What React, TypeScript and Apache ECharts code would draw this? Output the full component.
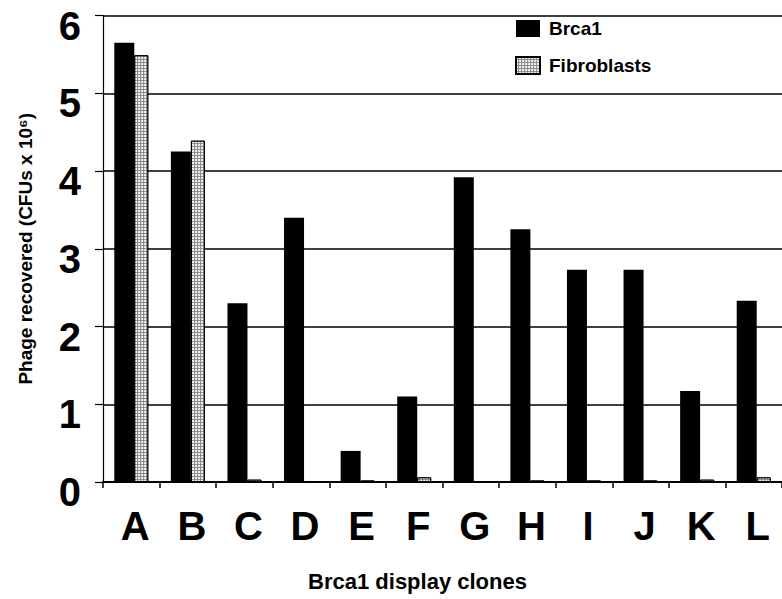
import React, { useEffect, useRef } from "react";
import * as echarts from "echarts";

const categories = ["A", "B", "C", "D", "E", "F", "G", "H", "I", "J", "K", "L"];
const brca1Values = [5.65, 4.25, 2.3, 3.4, 0.4, 1.1, 3.92, 3.25, 2.73, 2.73, 1.17, 2.33];
const fibroblastValues = [5.49, 4.39, 0.03, 0.01, 0.02, 0.06, 0.01, 0.02, 0.02, 0.02, 0.03, 0.06];
const yTicks = { min: 0, max: 6, interval: 1 };
const seriesNames = ["Brca1", "Fibroblasts"];
const xTitle = "Brca1 display clones";
const yTitle = "Phage recovered (CFUs x 10\u2076)";

const FONT = "'Liberation Sans', Arial, Helvetica, sans-serif";

export default function App() {
  const ref = useRef<HTMLDivElement>(null);
  useEffect(() => {
    if (!ref.current) return;
    const chart = echarts.init(ref.current, undefined, { renderer: "svg" });
    const fibDecal = {
      symbol: "circle",
      symbolSize: 1,
      dashArrayX: [2, 1],
      dashArrayY: [2, 1],
      color: "#ffffff",
      backgroundColor: "#444444",
      rotation: 0,
    };
    chart.setOption({
      animation: false,
      backgroundColor: "#ffffff",
      textStyle: { fontFamily: FONT },
      grid: { left: 103, top: 15.5, width: 684, height: 466.5 },
      legend: {
        orient: "vertical",
        left: 515,
        top: 19,
        padding: 0,
        itemWidth: 24,
        itemHeight: 17,
        itemGap: 18,
        textStyle: { fontFamily: FONT, fontWeight: "bold", fontSize: 19, color: "#000", padding: [0, 0, 0, 4] },
        data: [
          { name: seriesNames[0], icon: "rect" },
          { name: seriesNames[1], icon: "rect" },
        ],
      },
      xAxis: {
        type: "category",
        data: categories,
        name: xTitle,
        nameLocation: "middle",
        nameGap: 88,
        nameTextStyle: { fontFamily: FONT, fontWeight: "bold", fontSize: 22, color: "#000", padding: [0, 50, 0, 0] },
        axisLine: { lineStyle: { color: "#000", width: 2 } },
        axisTick: { show: true, length: 6, lineStyle: { color: "#000", width: 1.5 } },
        axisLabel: { fontFamily: FONT, fontWeight: "bold", fontSize: 40, color: "#000", margin: 24, padding: [0, 0, 0, 8] },
      },
      yAxis: {
        type: "value",
        min: yTicks.min,
        max: yTicks.max,
        interval: yTicks.interval,
        name: yTitle,
        nameLocation: "middle",
        nameRotate: 90,
        nameGap: 68,
        nameTextStyle: { fontFamily: FONT, fontWeight: "bold", fontSize: 19, color: "#000" },
        axisLine: { show: true, lineStyle: { color: "#000", width: 1.2 } },
        axisTick: { show: true, length: 8, lineStyle: { color: "#000", width: 1.2 } },
        axisLabel: {
          fontFamily: FONT,
          fontWeight: "bold",
          fontSize: 40,
          color: "#000",
          margin: 22,
          verticalAlign: "top",
          lineHeight: 20,
        },
        splitLine: { show: true, lineStyle: { color: "#000", width: 1.5 } },
      },
      series: [
        {
          name: seriesNames[0],
          type: "bar",
          data: brca1Values,
          barWidth: 20,
          barGap: "0%",
          itemStyle: { color: "#000" },
        },
        {
          name: seriesNames[1],
          type: "bar",
          data: fibroblastValues,
          barWidth: 14,
          barGap: "0%",
          itemStyle: { color: "#8a8a8a", borderColor: "#000", borderWidth: 1, decal: fibDecal },
        },
      ],
    });
    return () => chart.dispose();
  }, []);
  return (
    <div
      ref={ref}
      style={{ position: "fixed", left: 0, top: 0, width: 782, height: 599, background: "#fff" }}
    />
  );
}
